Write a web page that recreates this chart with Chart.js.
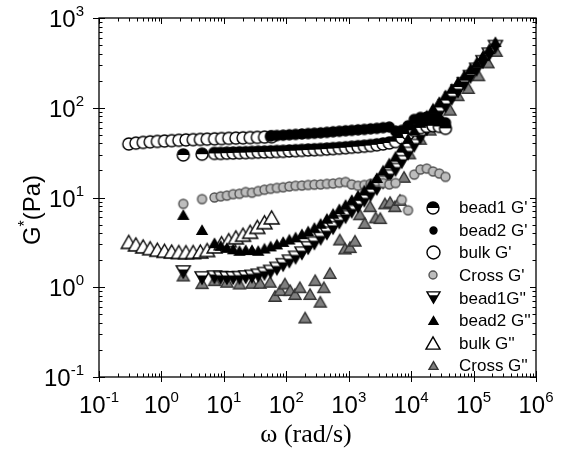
<!DOCTYPE html>
<html>
<head>
<meta charset="utf-8">
<script src="https://cdn.jsdelivr.net/npm/chart.js@4.4.1/dist/chart.umd.min.js"></script>
<style>
html, body { margin: 0; padding: 0; background: #fff; }
#wrap { width: 570px; height: 457px; }
</style>
</head>
<body>
<div id="wrap"><canvas id="chart" width="570" height="457"></canvas></div>
<script>
// frequencies (rad/s)
const wBulk = [0.30, 0.39, 0.51, 0.66, 0.86, 1.12, 1.46, 1.90, 2.47, 3.22, 4.2, 5.4, 7.1, 9.2, 12.0, 15.6, 20.3, 26.4, 34.4, 44.8, 58.3];
const wBead = [2.24, 4.47, 7.08, 8.91, 11.2, 14.1, 17.8, 22.4, 28.2, 35.5, 44.7, 56.2, 70.8, 89.1, 112, 141, 178, 224, 282, 355,
               447, 562, 708, 891, 1120, 1410, 1780, 2240, 2820, 3550, 4470, 5620, 7080, 8910, 11200, 14100, 17800, 22400, 28200, 35500,
               44700, 56200, 70800, 89100, 112000, 141000, 178000, 224000];
const wCrossPP = [2.24, 4.47, 7.08, 11.2, 17.8, 28.2, 38, 55, 66, 80, 95, 115, 138, 165, 200, 240, 290, 350, 400, 500,
                  720, 870, 1050, 1260, 1500, 1800, 2200, 2700, 3200, 3800, 4600, 5500, 6600, 7700, 9400, 14000, 20000, 29000, 42000, 56000,
                  82000, 120000, 170000, 230000];

// moduli (Pa)
const bead1Gp = [29.8, 30.4, 31.0, 31.0, 31.2, 31.3, 31.5, 31.6, 31.8, 32.0, 32.1, 32.3, 32.5, 32.7, 33.0, 33.2, 33.5, 33.8, 34.0, 34.3,
                 34.6, 35.0, 35.4, 35.8, 36.3, 36.8, 37.3, 37.9, 38.6, 39.5, 40.5, 42, 46, 51, 56, 60, 62, 63, 62, 59,
                 null, null, null, null, null, null, null, null];
const bead2Gp = [null, null, null, null, null, null, null, null, null, null, null, 48.5, 49, 49.5, 50, 50.5, 51, 51.5, 52, 52.5,
                 53.2, 54, 54.7, 55.4, 56, 56.7, 57.4, 58.2, 59, 60, 61, 55, 56, 63, 74, 78, 79, 77, 73, 68,
                 null, null, null, null, null, null, null, null];
const bulkGp = [39.5, 40.4, 41.1, 41.7, 42.2, 42.6, 43.0, 43.4, 43.8, 44.1, 44.4, 44.7, 45.0, 45.3, 45.6, 45.9, 46.2, 46.5, 46.8, 47.1, 47.5];
const crossGp = [8.5, 9.6, 10, 10.3, 10.5, 10.9, 11.0, 11.5, 11.3, 11.8, 12.2, 12.5, 12.8, 13.0, 13.3, 13.5, 13.6, 13.8, 13.9, 14.0,
                 14.2, 14.3, 14.6, 14.9, 14.0, 13.5, 13.8, 14.2, 15.0, 14.5, 14.0, 14.5, 9.4, 7.2, 18, 20.5, 21, 19.5, 18.5, 17,
                 null, null, null, null, null, null, null, null];
const bead1Gpp = [1.48, 1.27, 1.3, 1.28, 1.27, 1.27, 1.28, 1.3, 1.32, 1.36, 1.42, 1.5, 1.62, 1.78, 1.95, 2.15, 2.4, 2.75, 3.1, 3.5,
                  4.0, 4.6, 5.3, 6.1, 7.0, 8.0, 9.3, 10.8, 12.6, 14.8, 17.3, 20.5, 25, 31, 38, 47, 58, 71, 87, 105,
                  127, 153, 185, 222, 268, 325, 395, 480];
const bead2Gpp = [6.4, 4.35, 3.1, 2.9, 2.75, 2.65, 2.55, 2.6, 2.6, 2.55, 2.7, 2.85, 3.0, 3.2, 3.4, 3.6, 3.9, 4.2, 4.6, 5.1,
                  5.8, 6.6, 7.4, 8.3, 9.4, 10.5, 12, 14, 16.5, 20, 24, 28.5, 36, 45, 56, 68, 82, 98, 116, 138,
                  163, 193, 228, 270, 318, 378, 450, 540];
const bulkGpp = [3.2, 3.0, 2.85, 2.72, 2.62, 2.55, 2.5, 2.47, 2.46, 2.47, 2.5, 2.6, 2.85, 3.1, 3.35, 3.6, 3.85, 4.15, 4.7, 5.3, 6.0];
const crossGpp = [1.35, 1.11, 1.2, 1.15, 1.1, 1.12, 1.12, 1.15, 0.8, 0.93, 1.1, 0.93, 0.84, 1.0, 0.46, 0.84, 1.2, 0.69, 1.0, 1.44,
                  3.4, 2.7, 2.8, 3.3, 6.5, 5.2, 8.0, 6.0, 5.9, 8.6, 8.9, 8.0, 9.4, 17, 31, 45, 57, 68, 95, 138,
                  166, 230, 320, 430];

const labels = ["bead1 G'", "bead2 G'", "bulk G'", "Cross G'", "bead1G''", "bead2 G''", "bulk G''", "Cross G''"];
const xExps = [-1, 0, 1, 2, 3, 4, 5, 6];
const yExps = [-1, 0, 1, 2, 3];

const SANS = '"Liberation Sans", Arial, sans-serif';

function pairs(xs, ys) {
    return xs.map((x, i) => ({ x: x, y: ys[i] })).filter(p => p.y != null);
}

// marker images: circle, half circle, up triangle, down triangle with black lower part
function makeMarker(shape, size, fill, stroke) {
    const c = document.createElement('canvas');
    c.width = c.height = Math.ceil(size + 4);
    const g = c.getContext('2d');
    const m = c.width / 2, r = size / 2;
    g.lineWidth = 1.4;
    g.strokeStyle = stroke;
    if (shape === 'circle' || shape === 'half') {
        g.beginPath(); g.arc(m, m, r, 0, Math.PI * 2);
        g.fillStyle = fill; g.fill();
        if (shape === 'half') {
            g.beginPath(); g.arc(m, m, r, Math.PI, 0); g.closePath();
            g.fillStyle = stroke; g.fill();
        }
        g.beginPath(); g.arc(m, m, r, 0, Math.PI * 2); g.stroke();
    } else {
        const h = size * 0.87, top = m - h / 2, bot = m + h / 2;
        const path = () => {
            g.beginPath();
            if (shape === 'up') { g.moveTo(m, top); g.lineTo(m + r, bot); g.lineTo(m - r, bot); }
            else { g.moveTo(m - r, top); g.lineTo(m + r, top); g.lineTo(m, bot); }
            g.closePath();
        };
        path(); g.fillStyle = fill; g.fill();
        if (shape === 'downhalf') {
            const cut = top + h * 0.3, hw = r * (bot - cut) / h;
            g.beginPath(); g.moveTo(m - hw, cut); g.lineTo(m + hw, cut); g.lineTo(m, bot); g.closePath();
            g.fillStyle = stroke; g.fill();
        }
        path(); g.stroke();
    }
    return c;
}

// shape, fill, stroke, size on plot, size in legend, draw order (lower is on top)
const styles = [
    ['half', '#fff', '#000', 12, 12, 0],
    ['circle', '#000', '#000', 10, 7, 0],
    ['circle', '#fff', '#000', 12, 13, 0],
    ['circle', '#bdbdbd', '#555', 9, 8, 0],
    ['downhalf', '#fff', '#000', 14, 13, 0],
    ['up', '#000', '#000', 10, 9, -1],
    ['up', '#fff', '#000', 15, 14, 0],
    ['up', '#7f7f7f', '#333', 12, 9, 0]
];
const dataMarks = styles.map(s => makeMarker(s[0], s[3], s[1], s[2]));
const legendMarks = styles.map(s => makeMarker(s[0], s[4], s[1], s[2]));

const seriesData = [
    pairs(wBead, bead1Gp), pairs(wBead, bead2Gp), pairs(wBulk, bulkGp), pairs(wBead, crossGp),
    pairs(wBead, bead1Gpp), pairs(wBead, bead2Gpp), pairs(wBulk, bulkGpp), pairs(wCrossPP, crossGpp)
];

function drawPow(ctx, exp, x, base, align) {
    ctx.font = '24px ' + SANS;
    const wb = ctx.measureText('10').width;
    ctx.font = '15px ' + SANS;
    const we = ctx.measureText(String(exp)).width;
    const left = align === 'center' ? x - (wb + we) / 2 : x - (wb + we);
    ctx.textAlign = 'left';
    ctx.font = '24px ' + SANS;
    ctx.fillText('10', left, base);
    ctx.font = '15px ' + SANS;
    ctx.fillText(String(exp), left + wb, base - 11);
}

const framePlugin = {
    id: 'frame',
    afterDraw(chart) {
        const { ctx, chartArea: a } = chart;
        const sx = chart.scales.x, sy = chart.scales.y;
        ctx.save();
        ctx.strokeStyle = '#000';
        ctx.fillStyle = '#000';
        ctx.lineWidth = 1.3;
        ctx.strokeRect(a.left, a.top, a.right - a.left, a.bottom - a.top);

        ctx.lineWidth = 1;
        ctx.beginPath();
        xExps.forEach(e => {
            const px = Math.round(sx.getPixelForValue(Math.pow(10, e))) + 0.5;
            ctx.moveTo(px, a.bottom + 5); ctx.lineTo(px, a.bottom - 6);
            ctx.moveTo(px, a.top); ctx.lineTo(px, a.top + 6);
            if (e < xExps[xExps.length - 1]) {
                for (let k = 2; k <= 9; k++) {
                    const q = Math.round(sx.getPixelForValue(k * Math.pow(10, e))) + 0.5;
                    ctx.moveTo(q, a.bottom); ctx.lineTo(q, a.bottom - 3.5);
                    ctx.moveTo(q, a.top); ctx.lineTo(q, a.top + 3.5);
                }
            }
        });
        yExps.forEach(e => {
            const py = Math.round(sy.getPixelForValue(Math.pow(10, e))) + 0.5;
            ctx.moveTo(a.left - 6, py); ctx.lineTo(a.left + 6, py);
            ctx.moveTo(a.right, py); ctx.lineTo(a.right - 6, py);
            if (e < yExps[yExps.length - 1]) {
                for (let k = 2; k <= 9; k++) {
                    const q = Math.round(sy.getPixelForValue(k * Math.pow(10, e))) + 0.5;
                    ctx.moveTo(a.left, q); ctx.lineTo(a.left + 3.5, q);
                    ctx.moveTo(a.right, q); ctx.lineTo(a.right - 3.5, q);
                }
            }
        });
        ctx.stroke();

        // tick labels
        xExps.forEach(e => drawPow(ctx, e, sx.getPixelForValue(Math.pow(10, e)), a.bottom + 36, 'center'));
        yExps.forEach(e => drawPow(ctx, e, a.left - 15, sy.getPixelForValue(Math.pow(10, e)) + 9, 'right'));

        // x title
        ctx.font = '26px "Liberation Serif", "Times New Roman", serif';
        ctx.textAlign = 'center';
        ctx.fillText('\u03c9 (rad/s)', 306, 442);

        // y title G*(Pa)
        ctx.translate(31, 210);
        ctx.rotate(-Math.PI / 2);
        ctx.font = '24px ' + SANS;
        const wG = ctx.measureText('G').width, wP = ctx.measureText('(Pa)').width;
        ctx.font = '16px ' + SANS;
        const wS = ctx.measureText('*').width;
        let x0 = -(wG + wS + wP) / 2;
        ctx.textAlign = 'left';
        ctx.font = '24px ' + SANS;
        ctx.fillText('G', x0, 9);
        ctx.font = '16px ' + SANS;
        ctx.fillText('*', x0 + wG, -1);
        ctx.font = '24px ' + SANS;
        ctx.fillText('(Pa)', x0 + wG + wS, 9);
        ctx.restore();

        // legend
        ctx.save();
        ctx.fillStyle = '#000';
        ctx.font = '17px ' + SANS;
        ctx.textAlign = 'left';
        ctx.textBaseline = 'middle';
        labels.forEach((t, i) => {
            const y = 207.5 + i * 22.6;
            const img = legendMarks[i];
            ctx.drawImage(img, Math.round(433 - img.width / 2), Math.round(y - img.height / 2));
            ctx.fillText(t, 459, y + 1);
        });
        ctx.restore();
    }
};

new Chart(document.getElementById('chart').getContext('2d'), {
    type: 'scatter',
    data: {
        datasets: labels.map((t, i) => ({
            label: t,
            data: seriesData[i],
            pointStyle: dataMarks[i],
            pointRadius: 6,
            order: styles[i][5],
            showLine: false
        }))
    },
    options: {
        responsive: false,
        animation: false,
        layout: { padding: { left: 99, right: 34, top: 18, bottom: 80 } },
        scales: {
            x: { type: 'logarithmic', min: 0.1, max: 1e6, display: false },
            y: { type: 'logarithmic', min: 0.1, max: 1000, display: false }
        },
        plugins: {
            legend: { display: false },
            tooltip: { enabled: false }
        }
    },
    plugins: [framePlugin]
});
</script>
</body>
</html>
